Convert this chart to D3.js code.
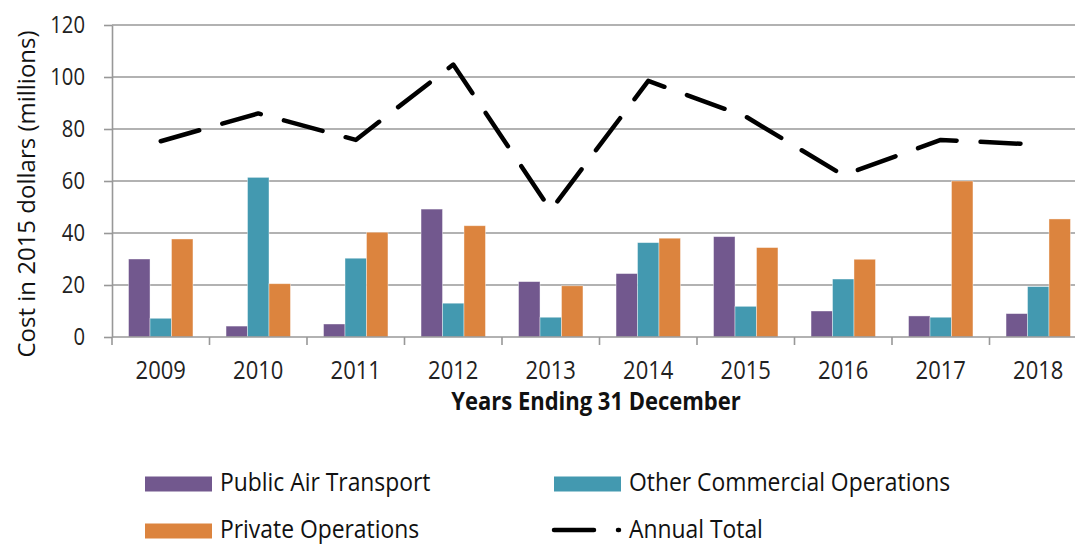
<!DOCTYPE html>
<html>
<head>
<meta charset="utf-8">
<script src="https://cdn.jsdelivr.net/npm/d3@7"></script>
<style>
  html, body { margin: 0; padding: 0; background: #fff; }
  svg { display: block; font-family: "Open Sans", "DejaVu Sans", sans-serif; }
</style>
</head>
<body>
<div id="chart"></div>
<script>
// values
var years = ["2009", "2010", "2011", "2012", "2013", "2014", "2015", "2016", "2017", "2018"];
var publicAir = [30, 4.2, 5, 49.2, 21.3, 24.4, 38.6, 10, 8.1, 9];
var otherCommercial = [7.2, 61.4, 30.3, 13, 7.6, 36.3, 11.8, 22.3, 7.6, 19.4];
var privateOps = [37.7, 20.5, 40.3, 42.8, 19.7, 38, 34.4, 29.9, 60, 45.4];
var annualTotal = [75.3, 86, 75.8, 104.8, 48.8, 98.5, 84.8, 62.2, 75.8, 74];
var yTicks = [0, 20, 40, 60, 80, 100, 120];
var seriesNames = ["Public Air Transport", "Other Commercial Operations", "Private Operations"];
var seriesColors = ["#72588e", "#4399b0", "#dc843e"];

var W = 1075, H = 544;
var SQ = 0.88; // text looks squeezed horizontally

var svg = d3.select("#chart").append("svg")
    .attr("width", W)
    .attr("height", H);

// plot area runs past the right edge, like the picture
var x0 = d3.scaleBand().domain(years).range([112, 1087]).padding(0);
var x1 = d3.scaleBand().domain(seriesNames).range([0, x0.bandwidth()]).paddingInner(0).paddingOuter(0.77);
var y = d3.scaleLinear().domain([0, 120]).range([337, 25]);

function sqText(sel, x, yy) {
    // helper: group at x,y with squeezed text
    var g = sel.append("g").attr("transform", "translate(" + x + "," + yy + ")");
    return g.append("text").attr("transform", "scale(" + SQ + ",1)");
}

// gridlines
svg.append("g").selectAll("line")
    .data(yTicks.filter(function(d){ return d > 0; }))
    .enter().append("line")
    .attr("x1", 112).attr("x2", W)
    .attr("y1", function(d){ return y(d); })
    .attr("y2", function(d){ return y(d); })
    .attr("stroke", "#989898")
    .attr("stroke-width", 1.6);

// bars
var rows = years.map(function(yr, i){
    return { year: yr, vals: [publicAir[i], otherCommercial[i], privateOps[i]] };
});
var groups = svg.append("g").selectAll("g")
    .data(rows)
    .enter().append("g")
    .attr("transform", function(d){ return "translate(" + x0(d.year) + ",0)"; });
groups.selectAll("rect")
    .data(function(d){ return d.vals.map(function(v, k){ return { k: k, v: v }; }); })
    .enter().append("rect")
    .attr("x", function(d){ return x1(seriesNames[d.k]); })
    .attr("width", x1.bandwidth())
    .attr("y", function(d){ return y(d.v); })
    .attr("height", function(d){ return y(0) - y(d.v); })
    .attr("fill", function(d){ return seriesColors[d.k]; })
    .attr("stroke", "#ffffff")
    .attr("stroke-opacity", 0.5)
    .attr("stroke-width", 0.8);

// y axis
var yAxis = svg.append("g")
    .attr("transform", "translate(112,0)")
    .call(d3.axisLeft(y).tickValues(yTicks).tickSize(8).tickSizeOuter(0).tickFormat(""));
yAxis.select(".domain").attr("stroke", "#989898").attr("stroke-width", 1.6);
yAxis.selectAll(".tick line").attr("stroke", "#989898").attr("stroke-width", 1.6);

yTicks.forEach(function(t){
    sqText(svg, 85, y(t))
        .attr("text-anchor", "end")
        .attr("dy", "0.36em")
        .attr("font-size", 23)
        .attr("fill", "#222")
        .text(t);
});

// x axis line + boundary ticks
svg.append("line")
    .attr("x1", 112).attr("x2", W)
    .attr("y1", y(0)).attr("y2", y(0))
    .attr("stroke", "#989898").attr("stroke-width", 1.6);
svg.append("g").selectAll("line")
    .data(years)
    .enter().append("line")
    .attr("x1", function(d){ return x0(d); })
    .attr("x2", function(d){ return x0(d); })
    .attr("y1", y(0)).attr("y2", y(0) + 8)
    .attr("stroke", "#989898").attr("stroke-width", 1.6);

years.forEach(function(yr){
    sqText(svg, x0(yr) + x0.bandwidth() / 2, 379)
        .attr("text-anchor", "middle")
        .attr("font-size", 25)
        .attr("fill", "#222")
        .text(yr);
});

// annual total line
var line = d3.line()
    .x(function(d, i){ return x0(years[i]) + x0.bandwidth() / 2; })
    .y(function(d){ return y(d); });
svg.append("path")
    .datum(annualTotal)
    .attr("d", line)
    .attr("fill", "none")
    .attr("stroke", "#000")
    .attr("stroke-width", 4.5)
    .attr("stroke-linecap", "round")
    .attr("stroke-linejoin", "round")
    .attr("stroke-dasharray", "40,24");

// axis titles
sqText(svg, 596, 410)
    .attr("text-anchor", "middle")
    .attr("font-size", 25)
    .attr("font-weight", "bold")
    .attr("fill", "#111")
    .text("Years Ending 31 December");

svg.append("text")
    .attr("transform", "translate(35,194) rotate(-90)")
    .attr("text-anchor", "middle")
    .attr("font-size", 24)
    .attr("fill", "#111")
    .text("Cost in 2015 dollars (millions)");

// legend
var legendItems = [
    { name: seriesNames[0], color: seriesColors[0], x: 145, y: 484, type: "box" },
    { name: seriesNames[1], color: seriesColors[1], x: 554, y: 484, type: "box" },
    { name: seriesNames[2], color: seriesColors[2], x: 145, y: 531, type: "box" },
    { name: "Annual Total", color: "#000", x: 554, y: 530, type: "line" }
];
legendItems.forEach(function(d){
    if (d.type == "box") {
        svg.append("rect")
            .attr("x", d.x).attr("y", d.y - 7.5)
            .attr("width", 67).attr("height", 15)
            .attr("fill", d.color);
        sqText(svg, d.x + 75, d.y + 7)
            .attr("font-size", 26)
            .attr("fill", "#111")
            .text(d.name);
    } else {
        svg.append("line")
            .attr("x1", d.x).attr("x2", d.x + 65)
            .attr("y1", d.y).attr("y2", d.y)
            .attr("stroke", d.color)
            .attr("stroke-width", 4.5)
            .attr("stroke-linecap", "round")
            .attr("stroke-dasharray", "40,24");
        sqText(svg, d.x + 75, d.y + 8)
            .attr("font-size", 26)
            .attr("fill", "#111")
            .text(d.name);
    }
});
</script>
</body>
</html>
